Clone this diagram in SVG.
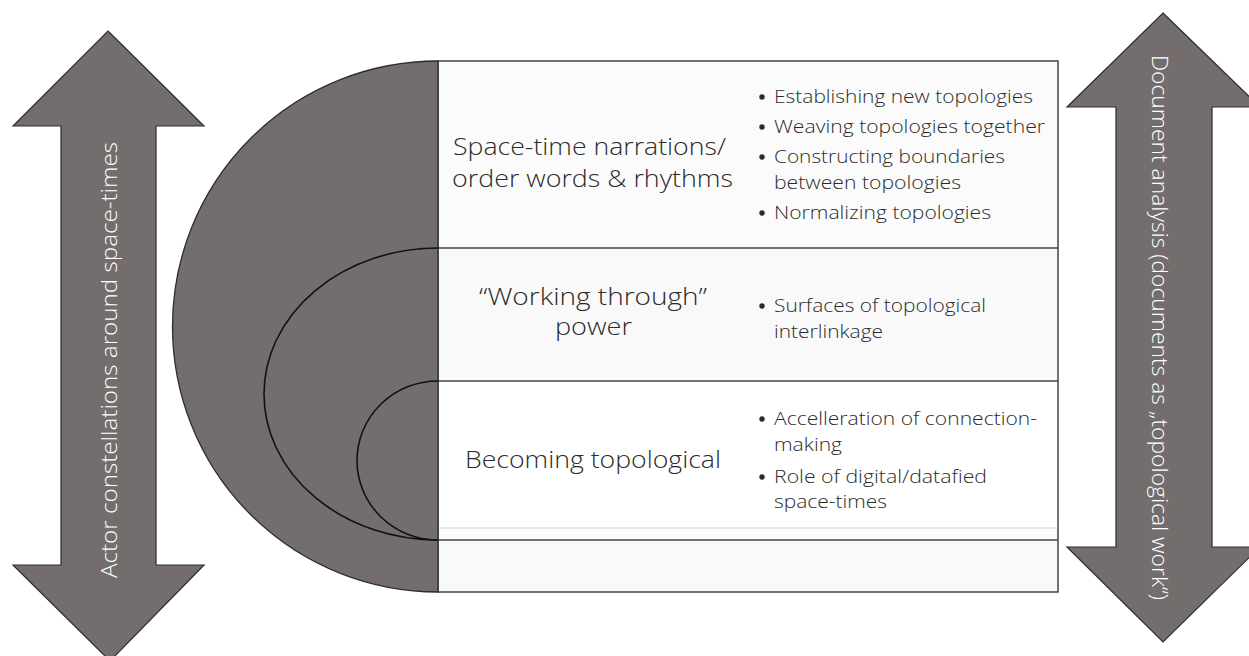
<svg xmlns="http://www.w3.org/2000/svg" width="1249" height="656" viewBox="0 0 1249 656">
<style>
.arrow{fill:#736d6d;stroke:#2e2e2e;stroke-width:1.2;stroke-linejoin:miter}
.arc{fill:none;stroke:#111;stroke-width:1.6}
.disk{fill:#736d6d;stroke:#2e2e2e;stroke-width:1.3}
.cell{stroke:none}
.rule{stroke:#444;stroke-width:1.5}
.main{font-family:"Open Sans",Lato,sans-serif;font-weight:300;font-size:24px;fill:#2b2b2b}
.bul{font-family:"Open Sans",Lato,sans-serif;font-weight:300;font-size:18px;fill:#2b2b2b}
.vert{font-family:"Open Sans",Lato,sans-serif;font-weight:300;font-size:22px;fill:#ffffff}
.dot{fill:#2b2b2b}
</style>
<rect width="1249" height="656" fill="#ffffff"/>
<g id="left-arrow">
<polygon class="arrow" points="108,31 204,126 156,126 156,565 204,565 110,661 13,565 61,565 61,126 13,126"/>
<text class="vert" transform="translate(117,578) rotate(-90)" textLength="436" lengthAdjust="spacingAndGlyphs">Actor constellations around space-times</text>
</g>
<g id="right-arrow">
<polygon class="arrow" points="1163,13 1260,107 1212,107 1212,547 1260,547 1163,642 1067,547 1116,547 1116,107 1067,107"/>
<text class="vert" transform="translate(1152,55) rotate(90)" textLength="545" lengthAdjust="spacingAndGlyphs">Document analysis (documents as „topological work“)</text>
</g>
<g id="table">
<rect class="cell" x="438" y="61" width="620" height="187" fill="#fbfbfb"/>
<rect class="cell" x="438" y="248" width="620" height="133" fill="#f9f9f9"/>
<rect class="cell" x="438" y="381" width="620" height="147" fill="#ffffff"/>
<rect class="cell" x="438" y="528" width="620" height="12" fill="#fbfbfb"/>
<rect class="cell" x="438" y="540" width="620" height="52" fill="#f9f9f9"/>
<line x1="438" y1="528" x2="1058" y2="528" stroke="#e2e2e2" stroke-width="1.5"/>
<line class="rule" x1="438" y1="248" x2="1058" y2="248"/>
<line class="rule" x1="438" y1="381" x2="1058" y2="381"/>
<line class="rule" x1="438" y1="540" x2="1058" y2="540"/>
<rect x="438" y="61" width="620" height="531" fill="none" stroke="#444" stroke-width="1.5"/>
</g>
<g id="half-disk">
<path class="disk" d="M438,61 A265.5,265.5 0 0 0 438,592 Z"/>
<path class="arc" d="M438,248 A174,146 0 0 0 438,540"/>
<path class="arc" d="M438,381 A81,79.5 0 0 0 438,540"/>
</g>
<g id="row1">
<text class="main" x="453" y="155" textLength="273" lengthAdjust="spacingAndGlyphs">Space-time narrations/</text>
<text class="main" x="452" y="187" textLength="281" lengthAdjust="spacingAndGlyphs">order words &amp; rhythms</text>
<circle class="dot" cx="762" cy="97" r="2.7"/>
<text class="bul" x="774" y="103" textLength="259" lengthAdjust="spacingAndGlyphs">Establishing new topologies</text>
<circle class="dot" cx="762" cy="127" r="2.7"/>
<text class="bul" x="774" y="133" textLength="271" lengthAdjust="spacingAndGlyphs">Weaving topologies together</text>
<circle class="dot" cx="762" cy="157" r="2.7"/>
<text class="bul" x="774" y="163" textLength="231" lengthAdjust="spacingAndGlyphs">Constructing boundaries</text>
<text class="bul" x="774" y="189" textLength="187" lengthAdjust="spacingAndGlyphs">between topologies</text>
<circle class="dot" cx="762" cy="213" r="2.7"/>
<text class="bul" x="774" y="219" textLength="217" lengthAdjust="spacingAndGlyphs">Normalizing topologies</text>
</g>
<g id="row2">
<text class="main" x="479" y="305" textLength="228" lengthAdjust="spacingAndGlyphs">“Working through”</text>
<text class="main" x="555" y="335" textLength="77" lengthAdjust="spacingAndGlyphs">power</text>
<circle class="dot" cx="762" cy="306" r="2.7"/>
<text class="bul" x="774" y="312" textLength="212" lengthAdjust="spacingAndGlyphs">Surfaces of topological</text>
<text class="bul" x="774" y="338" textLength="109" lengthAdjust="spacingAndGlyphs">interlinkage</text>
</g>
<g id="row3">
<text class="main" x="465" y="468" textLength="256" lengthAdjust="spacingAndGlyphs">Becoming topological</text>
<circle class="dot" cx="762" cy="419" r="2.7"/>
<text class="bul" x="774" y="425" textLength="263" lengthAdjust="spacingAndGlyphs">Accelleration of connection-</text>
<text class="bul" x="774" y="451" textLength="68" lengthAdjust="spacingAndGlyphs">making</text>
<circle class="dot" cx="762" cy="477" r="2.7"/>
<text class="bul" x="774" y="483" textLength="213" lengthAdjust="spacingAndGlyphs">Role of digital/datafied</text>
<text class="bul" x="774" y="508" textLength="113" lengthAdjust="spacingAndGlyphs">space-times</text>
</g>
<g id="connectors"></g>
</svg>
